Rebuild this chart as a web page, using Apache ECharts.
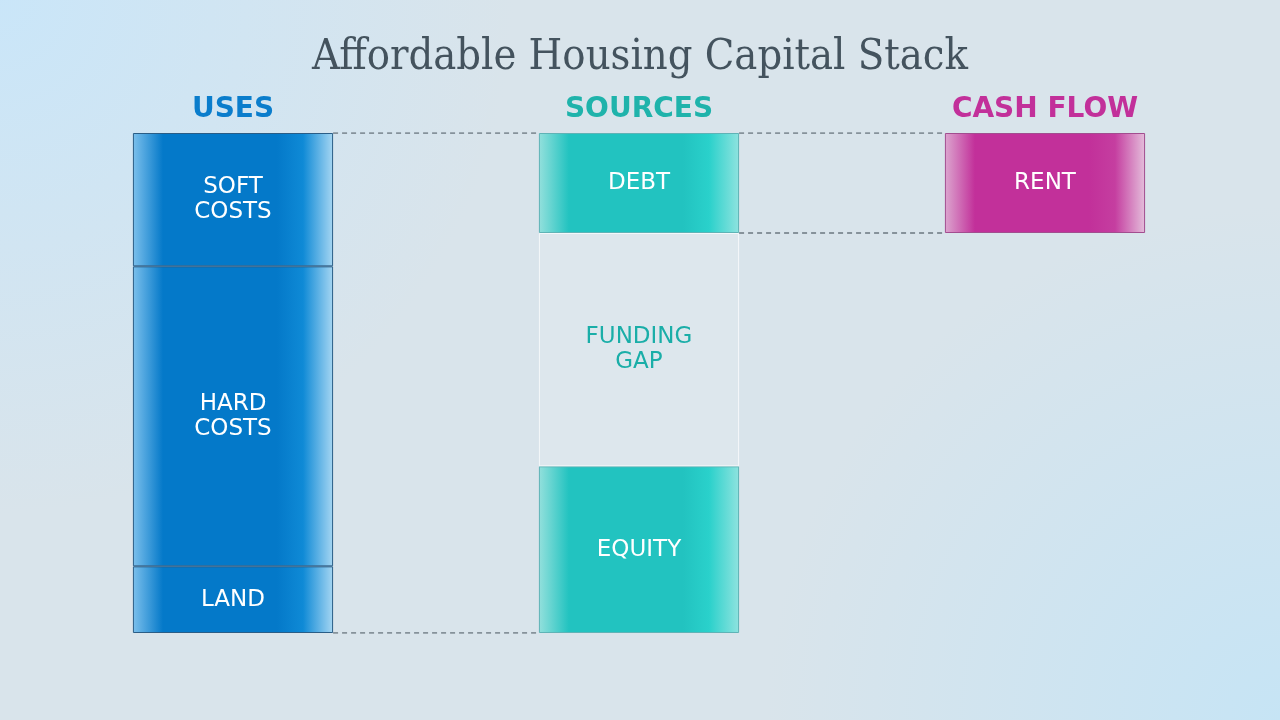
<!DOCTYPE html>
<html>
<head>
<meta charset="utf-8">
<title>Affordable Housing Capital Stack</title>
<script src="https://cdn.jsdelivr.net/npm/echarts@6/dist/echarts.min.js"></script>
<style>
	html, body { margin: 0; padding: 0; width: 1280px; height: 720px; overflow: hidden; }
	body {
		background:
			radial-gradient(circle at 0% 0%, rgba(200,230,250,0.9) 0%, rgba(200,230,250,0) 35%),
			radial-gradient(circle at 100% 100%, rgba(196,228,246,0.9) 0%, rgba(196,228,246,0) 35%),
			#d9e4eb;
	}
	#chart { width: 1280px; height: 720px; }
</style>
</head>
<body>
<div id="chart"></div>
<script type="text/javascript">
	// 栏目
	var categories = ['USES', 'SOURCES', 'CASH FLOW'];
	var categoryColors = ['#0a7dcc', '#1fb3ab', '#c2309a'];

	// uses
	var land = [2, '-', '-'];
	var hardCosts = [9, '-', '-'];
	var softCosts = [4, '-', '-'];
	// sources
	var equity = ['-', 5, '-'];
	var fundingGap = ['-', 7, '-'];
	var debt = ['-', 3, '-'];
	// cash flow (rent sits at the top of the stack, base is hidden)
	var rentBase = ['-', '-', 12];
	var rent = ['-', '-', 3];

	var barShare = 0.493; // bar width as share of band
	var half = barShare / 2;

	var usesTop = land[0] + hardCosts[0] + softCosts[0];
	var debtBottom = equity[1] + fundingGap[1];

	function grad(edgeL, mid, edgeR, bright) {
		return new echarts.graphic.LinearGradient(0, 0, 1, 0, [
			{offset: 0, color: edgeL},
			{offset: 0.15, color: mid},
			{offset: 0.72, color: mid},
			{offset: 0.85, color: bright},
			{offset: 1, color: edgeR}
		]);
	}
	var blue = grad('#7cc0ec', '#0479c9', '#a6d6f2', '#0f8ad6');
	var teal = grad('#93e0dc', '#22c3c0', '#8fe3df', '#2ad1cb');
	var pink = grad('#dca6cf', '#c2309a', '#e4bedb', '#c53ea0');

	var labelStyle = {
		show: true,
		position: 'inside',
		formatter: '{a}',
		color: '#ffffff',
		fontFamily: 'DejaVu Sans',
		fontSize: 23,
		lineHeight: 25
	};

	function bar(name, data, color, border, extra) {
		var s = {
			name: name,
			type: 'bar',
			stack: 'total',
			barWidth: (barShare * 100) + '%',
			data: data,
			itemStyle: {color: color, borderColor: border, borderWidth: 1},
			label: labelStyle,
			silent: true
		};
		if (extra) { for (var k in extra) s[k] = extra[k]; }
		return s;
	}

	// 虚线连接
	var connectors = [
		[[0 + half, usesTop], [1 - half, usesTop]],
		[[0 + half, 0], [1 - half, 0]],
		[[1 + half, usesTop], [2 - half, usesTop]],
		[[1 + half, debtBottom], [2 - half, debtBottom]]
	];
	var connectorSeries = connectors.map(function (seg) {
		return {
			type: 'line',
			xAxisIndex: 1,
			data: seg,
			symbol: 'none',
			silent: true,
			lineStyle: {color: '#6b7780', width: 1.5, type: [5, 4]},
			z: 1
		};
	});

	var catFont = {fontFamily: 'DejaVu Sans', fontWeight: 'bold', fontSize: 28};

	var myChart = echarts.init(document.getElementById('chart'));
	option = {
		backgroundColor: 'transparent',
		animation: false,
		title: {
			text: 'Affordable Housing Capital Stack',
			left: 'center',
			top: 31,
			textStyle: {
				fontFamily: 'DejaVu Serif Condensed, DejaVu Serif',
				fontWeight: 'normal',
				fontSize: 43,
				color: '#44535e'
			}
		},
		grid: {left: 30, right: 32, top: 133, bottom: 87},
		xAxis: [
			{
				type: 'category',
				position: 'top',
				data: categories,
				axisLine: {show: false},
				axisTick: {show: false},
				axisLabel: {
					margin: 9,
					fontFamily: catFont.fontFamily,
					fontWeight: catFont.fontWeight,
					fontSize: catFont.fontSize,
					formatter: function (v, i) { return '{c' + i + '|' + v + '}'; },
					rich: {
						c0: echarts.util.merge({color: categoryColors[0]}, catFont),
						c1: echarts.util.merge({color: categoryColors[1]}, catFont),
						c2: echarts.util.merge({color: categoryColors[2]}, catFont)
					}
				}
			},
			{
				type: 'value',
				min: -0.5,
				max: 2.5,
				show: false
			}
		],
		yAxis: {
			type: 'value',
			min: 0,
			max: usesTop,
			show: false,
			splitLine: {show: false}
		},
		series: [
			bar('LAND', land, blue, '#2a5d86'),
			bar('HARD\nCOSTS', hardCosts, blue, '#2a5d86'),
			bar('SOFT\nCOSTS', softCosts, blue, '#2a5d86'),
			bar('EQUITY', equity, teal, '#5fb3b6'),
			bar('FUNDING\nGAP', fundingGap, 'rgba(255,255,255,0.12)', 'rgba(255,255,255,0.7)', {
				label: echarts.util.merge({color: '#1aaea8'}, labelStyle)
			}),
			bar('DEBT', debt, teal, '#5fb3b6'),
			bar('', rentBase, 'rgba(0,0,0,0)', 'rgba(0,0,0,0)', {label: {show: false}}),
			bar('RENT', rent, pink, '#a24d8f')
		].concat(connectorSeries)
	};
	myChart.setOption(option);
</script>
</body>
</html>
